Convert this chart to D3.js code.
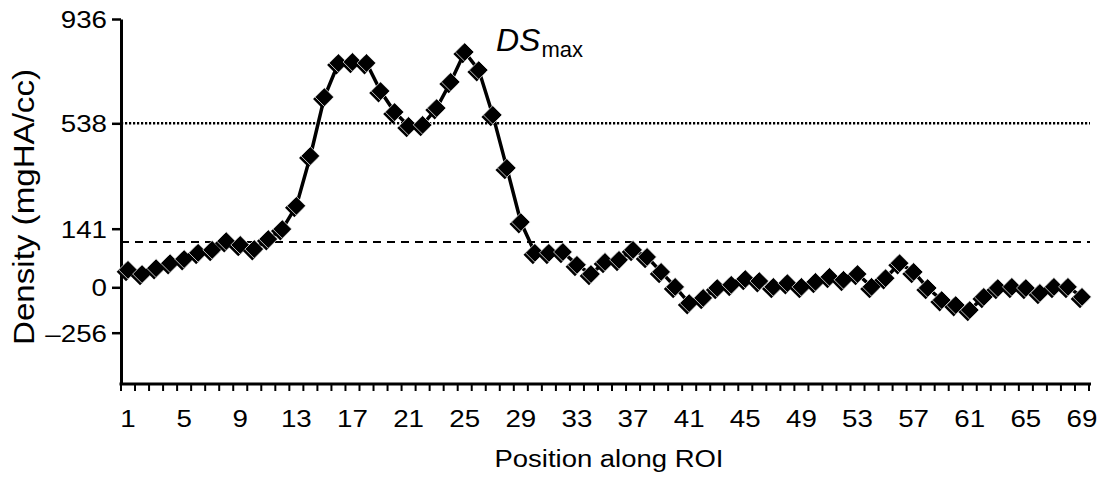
<!DOCTYPE html>
<html><head><meta charset="utf-8">
<script src="https://cdn.jsdelivr.net/npm/d3@7"></script>
<style>
body{margin:0;background:#fff}
text{font-family:"Liberation Sans",Arial,Helvetica,sans-serif;fill:#000}
</style>
</head><body>
<svg id="chart" width="1104" height="482"></svg>
<script>
// ---- data ----
const positions = [1,2,3,4,5,6,7,8,9,10,11,12,13,14,15,16,17,18,19,20,21,22,23,24,25,26,27,28,29,30,31,32,33,34,35,36,37,38,39,40,41,42,43,44,45,46,47,48,49,50,51,52,53,54,55,56,57,58,59,60,61,62,63,64,65,66,67,68,69];
const density = [42,32,46,58,68,83,90,111,102,92,116,140,227,415,638,768,772,768,661,581,528,532,596,696,810,741,570,370,166,83,83,85,54,32,61,66,90,73,37,1,-89,-60,-4,6,20,15,1,10,1,13,25,18,32,1,22,58,37,-4,-72,-100,-128,-54,-4,1,-4,-32,1,1,-54];
const yTickValues = [-256, 0, 141, 538, 936];
const xTickLabels = [1,5,9,13,17,21,25,29,33,37,41,45,49,53,57,61,65,69];
const upperLine = 538;   // dotted reference
const lowerLine = 109;   // dashed reference
const yTitle = "Density (mgHA/cc)";
const xTitle = "Position along ROI";

const svg = d3.select("#chart");
const x = d3.scaleBand().domain(positions).range([121, 1089]).padding(0);
// the printed axis is not uniform: piecewise-linear mapping through its tick positions
const y = d3.scaleLinear().domain([-538, -256, 0, 141, 538, 936]).range([383, 332.7, 287.3, 228.7, 123.3, 19]);
const cx = p => x(p) + x.bandwidth()/2;

function stretch(sel, f){
  sel.each(function(){
    const w = this.getComputedTextLength();
    d3.select(this).attr("textLength", w*f).attr("lengthAdjust","spacingAndGlyphs");
  });
}

// reference lines
svg.append("line").attr("x1",121).attr("x2",1090).attr("y1",y(upperLine)).attr("y2",y(upperLine))
  .attr("stroke","#000").attr("stroke-width",2.5).attr("stroke-dasharray","2.2,1.8");
svg.append("line").attr("x1",121).attr("x2",1090).attr("y1",y(lowerLine)).attr("y2",y(lowerLine))
  .attr("stroke","#000").attr("stroke-width",2.2).attr("stroke-dasharray","8,6");

// y axis
const yAxis = svg.append("g").attr("transform","translate(121,0)")
  .call(d3.axisLeft(y).tickValues(yTickValues).tickSize(9).tickSizeOuter(0)
    .tickFormat(d => d < 0 ? "\u2013" + Math.abs(d) : String(d)));
yAxis.select(".domain").attr("stroke-width",3);
yAxis.selectAll(".tick line").attr("stroke-width",2.5);
yAxis.selectAll(".tick text").attr("x",-14).attr("dy","0.36em").style("font-size","23.5px");
stretch(yAxis.selectAll(".tick text"), 1.18);

// x axis line & boundary ticks
svg.append("line").attr("x1",119.5).attr("x2",1091).attr("y1",384).attr("y2",384)
  .attr("stroke","#000").attr("stroke-width",3);
const bounds = positions.map(p => x(p)).concat([x.range()[1]]);
svg.append("g").selectAll("line").data(bounds).join("line")
  .attr("x1",d=>d).attr("x2",d=>d).attr("y1",384).attr("y2",391)
  .attr("stroke","#000").attr("stroke-width",2);

// x tick labels
const xl = svg.append("g").selectAll("text").data(xTickLabels).join("text")
  .attr("x", d => cx(d)).attr("y", 427).attr("text-anchor","middle")
  .style("font-size","23.5px").text(d => d);
stretch(xl, 1.18);

// titles
const xt = svg.append("text").attr("x",609).attr("y",467).attr("text-anchor","middle")
  .style("font-size","23.5px").text(xTitle);
xt.attr("textLength",229).attr("lengthAdjust","spacingAndGlyphs");
svg.append("text").attr("transform","translate(34,207) rotate(-90)").attr("text-anchor","middle")
  .style("font-size","30px").attr("textLength",276).attr("lengthAdjust","spacingAndGlyphs").text(yTitle);

// annotation
const ann = svg.append("text").attr("x",496).attr("y",51);
ann.append("tspan").style("font-size","32px").style("font-style","italic").text("DS");
ann.append("tspan").attr("dy",6).attr("dx",1).style("font-size","22px").text("max");

// line
const data = positions.map((p,i)=>({p, v: density[i]}));
svg.append("path").datum(data)
  .attr("d", d3.line().x(d=>cx(d.p)).y(d=>y(d.v)))
  .attr("fill","none").attr("stroke","#000").attr("stroke-width",3.5);

// markers
const sym = d3.symbol(d3.symbolSquare, 175)();
const mk = svg.append("g").selectAll("g").data(data).join("g")
  .attr("transform", d => `translate(${cx(d.p)},${y(d.v)})`);
mk.append("path").attr("d",sym).attr("transform","translate(-2,2) rotate(45)").attr("fill","#000");
mk.append("path").attr("d",sym).attr("transform","rotate(45)").attr("fill","#000")
  .attr("stroke","#fff").attr("stroke-width",0.7);
</script>
</body></html>
